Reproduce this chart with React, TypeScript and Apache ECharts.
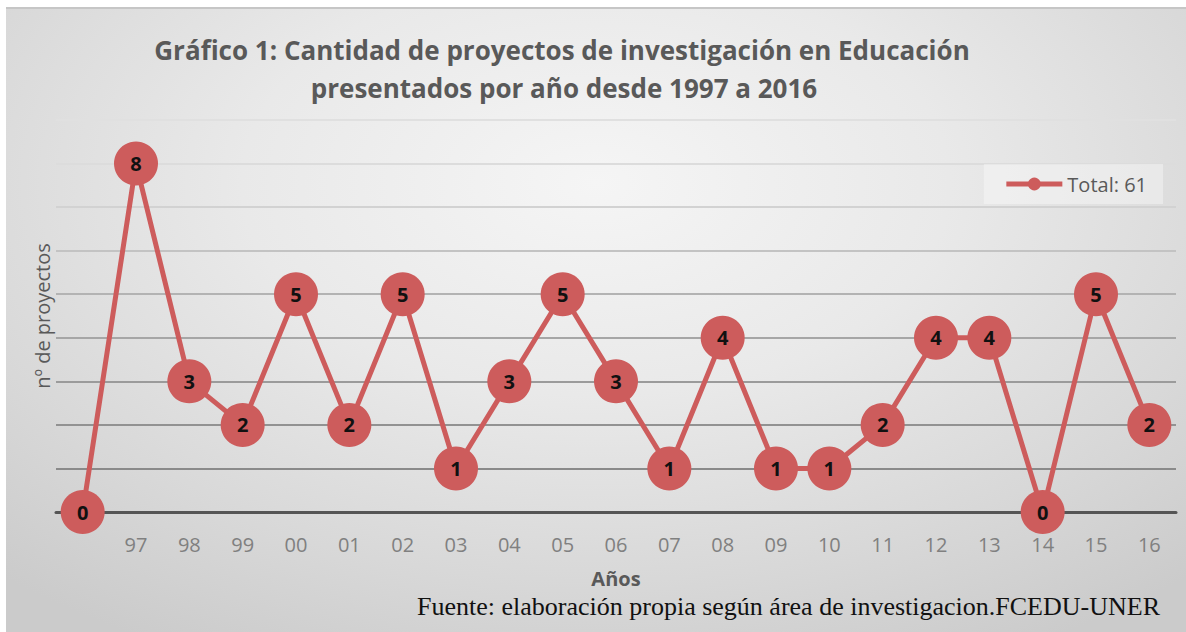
import React, { useEffect, useRef } from "react";
import * as echarts from "echarts";

const categories = ["", "97", "98", "99", "00", "01", "02", "03", "04", "05", "06", "07", "08", "09", "10", "11", "12", "13", "14", "15", "16"];
const values = [0, 8, 3, 2, 5, 2, 5, 1, 3, 5, 3, 1, 4, 1, 1, 2, 4, 4, 0, 5, 2];
const seriesName = "Total: 61";
const titleLines = [
  "Gráfico 1: Cantidad de proyectos de investigación en Educación",
  "presentados por año desde 1997 a 2016",
];
const yAxisName = "nº de proyectos";
const xAxisName = "Años";
const sourceNote = "Fuente: elaboración propia según área de investigacion.FCEDU-UNER";

const RED = "#CD5C5C";
const FONT = "'Open Sans', 'Noto Sans', sans-serif";

export default function App() {
  const ref = useRef<HTMLDivElement>(null);
  useEffect(() => {
    if (!ref.current) return;
    const chart = echarts.init(ref.current, undefined, { renderer: "svg" });
    chart.setOption({
      animation: false,
      backgroundColor: "transparent",
      textStyle: { fontFamily: FONT },
      grid: { left: 56, right: 10, top: 120, bottom: 120, containLabel: false },
      legend: {
        right: 23,
        top: 164,
        padding: [10, 16, 10, 20],
        backgroundColor: "rgba(255,255,255,0.35)",
        itemWidth: 56,
        itemHeight: 16,
        itemGap: 4,
        lineStyle: { width: 5 },
        textStyle: { fontFamily: FONT, fontSize: 20, color: "#595959" },
        data: [seriesName],
      },
      xAxis: {
        type: "category",
        data: categories,
        boundaryGap: true,
        axisLine: { show: true, lineStyle: { color: "#555555", width: 3 } },
        axisTick: { show: false },
        axisLabel: { color: "#808080", fontSize: 20, fontFamily: FONT, margin: 22 },
        name: xAxisName,
        nameLocation: "middle",
        nameGap: 56,
        nameTextStyle: { color: "#595959", fontSize: 20, fontWeight: "bold", fontFamily: FONT },
      },
      yAxis: {
        type: "value",
        min: 0,
        max: 9,
        interval: 1,
        axisLabel: { show: false },
        axisLine: { show: false },
        axisTick: { show: false },
        splitLine: {
          show: true,
          lineStyle: {
            width: 2,
            color: ["#555555", "#8a8a8a", "#929292", "#9b9b9b", "#a6a6a6", "#b3b3b3", "#c3c3c3", "#d2d2d2", "#dcdcdc", "#e0e0e0"],
          },
        },
        name: yAxisName,
        nameLocation: "middle",
        nameGap: 4,
        nameRotate: 90,
        nameTextStyle: { color: "#595959", fontSize: 20, fontFamily: FONT },
      },
      series: [
        {
          name: seriesName,
          type: "line",
          data: values,
          symbol: "circle",
          symbolSize: 44,
          itemStyle: { color: RED },
          lineStyle: { color: RED, width: 5 },
          label: {
            show: true,
            position: "inside",
            color: "#111111",
            fontSize: 20,
            fontWeight: "bold",
            fontFamily: FONT,
          },
        },
      ],
      graphic: [
        {
          type: "text",
          x: 562,
          y: 50,
          style: {
            text: titleLines[0],
            textAlign: "center",
            textVerticalAlign: "middle",
            fill: "#595959",
            fontSize: 26,
            fontWeight: "bold",
            fontFamily: FONT,
          },
        },
        {
          type: "text",
          x: 564,
          y: 88,
          style: {
            text: titleLines[1],
            textAlign: "center",
            textVerticalAlign: "middle",
            fill: "#595959",
            fontSize: 26,
            fontWeight: "bold",
            fontFamily: FONT,
          },
        },
        {
          type: "text",
          x: 1160,
          y: 606,
          style: {
            text: sourceNote,
            textAlign: "right",
            textVerticalAlign: "middle",
            fill: "#111111",
            fontSize: 26,
            fontFamily: "'Liberation Serif', 'Times New Roman', serif",
          },
        },
      ],
    });
    return () => chart.dispose();
  }, []);

  return (
    <div style={{ position: "absolute", left: 0, top: 0, width: 1186, height: 632, background: "#ffffff", overflow: "hidden" }}>
      <div
        style={{
          position: "absolute",
          left: 6,
          top: 7,
          width: 1180,
          height: 625,
          boxSizing: "border-box",
          borderTop: "2px solid #c6c6c6",
          background: "radial-gradient(ellipse 75% 85% at 50% 28%, #f5f5f5 0%, #e9e9e9 40%, #d8d8d8 75%, #cbcbcb 100%)",
        }}
      />
      <div ref={ref} style={{ position: "absolute", left: 0, top: 0, width: 1186, height: 632 }} />
    </div>
  );
}
